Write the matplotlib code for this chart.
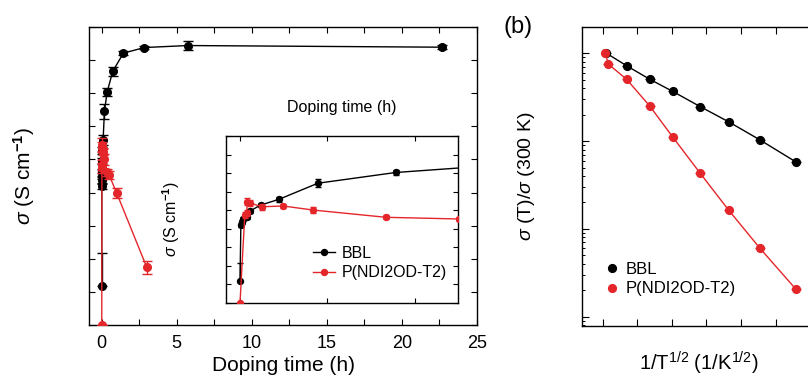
import matplotlib
matplotlib.use('Agg')
import matplotlib.pyplot as plt
from matplotlib.lines import Line2D
from matplotlib.ticker import MultipleLocator, LogLocator, NullFormatter

plt.rcParams['font.family'] = ['Liberation Sans', 'DejaVu Sans']
plt.rcParams['mathtext.fontset'] = 'custom'
plt.rcParams['mathtext.rm'] = 'Liberation Sans'
plt.rcParams['mathtext.it'] = 'Liberation Sans:italic'
plt.rcParams['mathtext.bf'] = 'Liberation Sans:bold'
plt.rcParams['axes.linewidth'] = 1.0

BLACK = 'black'
RED = '#e4262b'

# ---- Panel (a): conductivity vs doping time (arbitrary y units) ----
t_bbl = [0.0, 0.002, 0.004, 0.006, 0.015, 0.023, 0.047, 0.089, 0.178, 0.356,
         0.73, 1.44, 2.84, 5.73, 22.7]
s_bbl = [1.17, 4.20, 4.37, 4.50, 4.61, 4.95, 5.27, 5.58, 6.45, 7.03,
         7.66, 8.21, 8.38, 8.44, 8.39]
e_bbl_lo = [0.0, 0.1, 0.1, 0.1, 0.1, 0.1, 0.1, 0.15, 0.22, 0.12,
            0.14, 0.06, 0.05, 0.13, 0.06]
e_bbl_hi = [1.0, 0.1, 0.1, 0.1, 0.1, 0.1, 0.1, 0.15, 0.22, 0.12,
            0.14, 0.06, 0.05, 0.13, 0.06]

t_pndi = [0.0, 0.011, 0.015, 0.017, 0.024, 0.05, 0.099, 0.168, 0.334, 0.50, 1.0, 3.0]
s_pndi = [0.0, 4.74, 4.83, 5.45, 5.37, 5.18, 5.22, 5.00, 4.61, 4.52, 3.98, 1.74]
e_pndi = [0.0, 0.15, 0.15, 0.2, 0.15, 0.16, 0.1, 0.16, 0.1, 0.12, 0.15, 0.2]

main_xticks = [0, 5, 10, 15, 20, 25]
inset_xticks = [0, 0.2, 0.4]

# ---- Panel (b): normalized conductivity vs 1/T^(1/2) (tick units) ----
x_bbl_T = [0.11, 0.69, 1.36, 2.02, 2.82, 3.64, 4.55, 5.59]
r_bbl_T = [1.0, 0.722, 0.506, 0.369, 0.247, 0.166, 0.103, 0.0578]
x_pndi_T = [0.08, 0.16, 0.69, 1.36, 2.02, 2.82, 3.64, 4.55, 5.59]
r_pndi_T = [1.0, 0.755, 0.506, 0.251, 0.112, 0.0430, 0.0164, 0.00600, 0.00205]

labels = ['BBL', 'P(NDI2OD-T2)']

fig = plt.figure(figsize=(8.08, 3.78), dpi=100)
W, H = 808.0, 378.0

def rect(l, t, r, b):
    return [l / W, 1 - b / H, (r - l) / W, (b - t) / H]

e_bbl = [e_bbl_lo, e_bbl_hi]

# main axes
ax = fig.add_axes(rect(89, 27, 477, 325))
ax.errorbar(t_bbl, s_bbl, yerr=e_bbl, fmt='-o', color=BLACK, ms=5.5, lw=1,
            elinewidth=1, capsize=3.8, capthick=1, zorder=2)
ax.errorbar(t_pndi, s_pndi, yerr=e_pndi, fmt='-o', color=RED, ms=5.5, lw=1,
            elinewidth=1, capsize=3.8, capthick=1, zorder=3)
ax.set_xlim(-0.85, 25)
ax.set_ylim(0, 9)
ax.set_xticks(main_xticks)
ax.xaxis.set_minor_locator(MultipleLocator(2.5))
ax.yaxis.set_major_locator(MultipleLocator(1))
ax.tick_params(which='both', direction='in', top=True, right=True, length=4,
               width=0.8, labelleft=False, labelsize=13, pad=7)
ax.set_xlabel('Doping time (h)', fontsize=15)
ax.xaxis.set_label_coords(0.5, -0.105)
ax.set_ylabel(r'$\mathit{\sigma}$ (S cm$^{\mathbf{-1}}$)', fontsize=15)
ax.yaxis.set_label_coords(-0.134, 0.5)

# inset
axi = fig.add_axes(rect(226, 136, 458.3, 302.7))
axi.errorbar(t_bbl, s_bbl, yerr=e_bbl, fmt='-o', color=BLACK, ms=4.3, lw=1,
             elinewidth=1, capsize=2.5, capthick=1, zorder=2)
axi.errorbar(t_pndi, s_pndi, yerr=e_pndi, fmt='-o', color=RED, ms=4.3, lw=1,
             elinewidth=1, capsize=2.5, capthick=1, zorder=3)
axi.set_xlim(-0.032, 0.499)
axi.set_ylim(0, 9)
axi.set_xticks(inset_xticks)
axi.yaxis.set_major_locator(MultipleLocator(1))
axi.tick_params(which='both', direction='in', top=True, right=True, length=3.5,
                width=0.8, labelleft=False, labelbottom=False)
axi.text(0.5, 1.168, 'Doping time (h)', transform=axi.transAxes, ha='center',
         va='center', fontsize=11.5)
axi.set_ylabel(r'$\mathit{\sigma}$ (S cm$^{\mathbf{-1}}$)', fontsize=11.5)
axi.yaxis.set_label_coords(-0.189, 0.5)
h_in = [Line2D([], [], color=BLACK, marker='o', ms=4.3, lw=1),
        Line2D([], [], color=RED, marker='o', ms=4.3, lw=1)]
axi.legend(h_in, labels, loc='center left', bbox_to_anchor=(0.3745, 0.238),
           frameon=False, fontsize=11.5, borderpad=0, borderaxespad=0,
           handlelength=1.35, handletextpad=0.45, labelspacing=0.3)

# panel (b)
axb = fig.add_axes(rect(581.7, 27.3, 815, 326))
axb.errorbar(x_bbl_T, r_bbl_T, xerr=0.14, fmt='-o', color=BLACK, ms=5.6, lw=1,
             elinewidth=1, capsize=0)
axb.errorbar(x_pndi_T, r_pndi_T, xerr=0.14, fmt='-o', color=RED, ms=5.6, lw=1,
             elinewidth=1, capsize=0)
axb.set_yscale('log')
axb.set_xlim(-0.607, 6.14)
axb.set_ylim(0.000783, 1.977)
axb.xaxis.set_major_locator(MultipleLocator(1))
axb.yaxis.set_major_locator(LogLocator(base=10, numticks=10))
axb.yaxis.set_minor_locator(LogLocator(base=10, subs=range(2, 10), numticks=20))
axb.yaxis.set_minor_formatter(NullFormatter())
axb.tick_params(which='major', direction='in', top=True, right=True, length=5,
                width=0.8, labelleft=False, labelbottom=False)
axb.tick_params(which='minor', direction='in', right=True, length=2.5, width=0.7)
axb.set_ylabel(r'$\mathit{\sigma}$ (T)/$\mathit{\sigma}$ (300 K)', fontsize=14)
axb.yaxis.set_label_coords(-0.1916, 0.5)
axb.set_xlabel(r'1/T$^{1/2}$ (1/K$^{1/2}$)', fontsize=14.5)
axb.xaxis.set_label_coords(0.5, -0.08)
h_b = [Line2D([], [], color=BLACK, marker='o', ms=5.6, ls='none'),
       Line2D([], [], color=RED, marker='o', ms=5.6, ls='none')]
axb.legend(h_b, labels, loc='center left', bbox_to_anchor=(0.093, 0.156),
           frameon=False, fontsize=12, borderpad=0, borderaxespad=0,
           handlelength=1.0, handletextpad=0.35, labelspacing=0.25)

fig.text(518 / W, 1 - 27 / H, '(b)', ha='center', va='center', fontsize=17)

fig.savefig('out.png', dpi=100)
